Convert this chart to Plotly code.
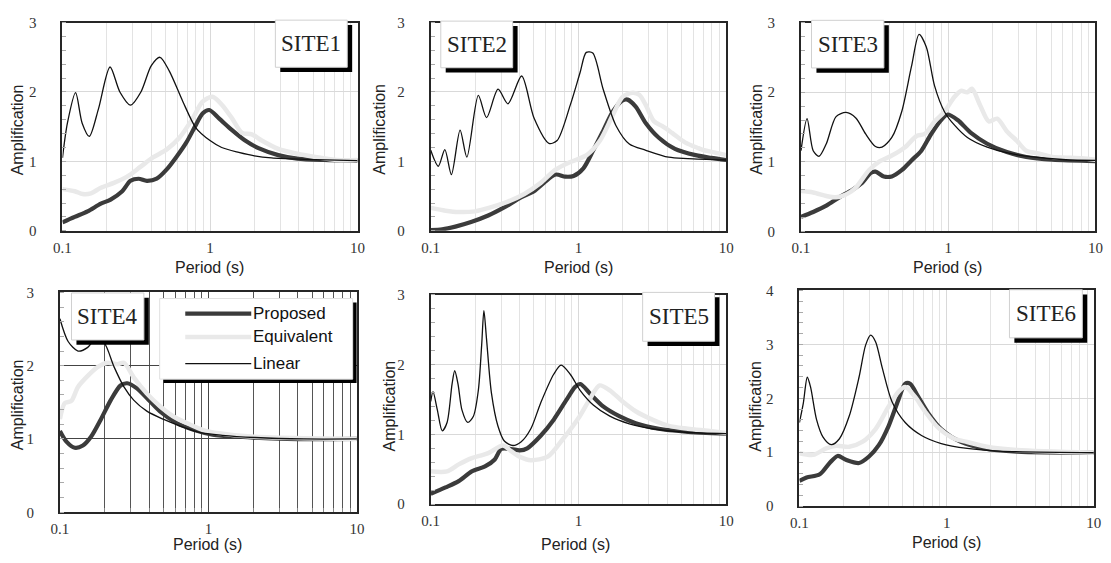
import plotly.graph_objects as go

W, H = 1111, 563

# ---------------- data (Period in s, Amplification) ----------------
# SITE1
S1_LIN_T = [0.1, 0.108, 0.1227, 0.136, 0.152, 0.175, 0.21, 0.245, 0.289, 0.34, 0.40, 0.458, 0.53, 0.655, 0.804, 1.0, 1.2, 1.566, 2.0, 2.61, 4.37, 10]
S1_LIN_A = [1.05, 1.55, 1.99, 1.55, 1.36, 1.75, 2.36, 2.0, 1.81, 2.0, 2.38, 2.50, 2.3, 1.86, 1.48, 1.30, 1.2, 1.13, 1.08, 1.05, 1.03, 1.01]
S1_PRO_T = [0.1, 0.121, 0.148, 0.182, 0.212, 0.254, 0.289, 0.328, 0.373, 0.435, 0.507, 0.59, 0.69, 0.804, 0.89, 0.987, 1.15, 1.41, 1.73, 2.13, 2.9, 3.9, 5.9, 10]
S1_PRO_A = [0.12, 0.20, 0.28, 0.39, 0.45, 0.57, 0.72, 0.75, 0.72, 0.75, 0.88, 1.06, 1.27, 1.53, 1.69, 1.74, 1.62, 1.45, 1.30, 1.19, 1.09, 1.04, 1.02, 1.01]
S1_EQU_T = [0.1, 0.121, 0.137, 0.156, 0.182, 0.223, 0.274, 0.337, 0.413, 0.507, 0.62, 0.763, 0.89, 1.04, 1.21, 1.41, 1.65, 1.92, 2.24, 2.9, 3.9, 5.3, 7.3, 10]
S1_EQU_A = [0.60, 0.57, 0.53, 0.54, 0.62, 0.69, 0.78, 0.92, 1.06, 1.17, 1.34, 1.62, 1.86, 1.93, 1.81, 1.62, 1.41, 1.39, 1.30, 1.18, 1.11, 1.06, 1.02, 1.02]

# SITE2
S2_LIN_T = [0.1, 0.1125, 0.1246, 0.138, 0.158, 0.1756, 0.21, 0.2387, 0.2855, 0.333, 0.4126, 0.501, 0.631, 0.717, 0.88, 1.026, 1.13, 1.25, 1.47, 1.8, 2.21, 2.86, 4.08, 5.5, 10]
S2_LIN_A = [1.16, 0.93, 1.17, 0.81, 1.45, 1.06, 1.95, 1.63, 2.04, 1.83, 2.23, 1.62, 1.26, 1.30, 1.81, 2.28, 2.57, 2.56, 2.04, 1.51, 1.25, 1.16, 1.06, 1.04, 1.02]
S2_PRO_T = [0.1, 0.1196, 0.1468, 0.1896, 0.2448, 0.3162, 0.408, 0.5, 0.584, 0.7, 0.815, 0.926, 1.08, 1.26, 1.47, 1.71, 1.99, 2.15, 2.44, 2.86, 3.5, 4.5, 6.2, 7.9, 10]
S2_PRO_A = [0.01, 0.02, 0.06, 0.13, 0.22, 0.34, 0.48, 0.57, 0.69, 0.81, 0.78, 0.79, 0.90, 1.16, 1.44, 1.72, 1.88, 1.89, 1.79, 1.55, 1.34, 1.18, 1.09, 1.05, 1.02]
S2_EQU_T = [0.1, 0.1259, 0.1546, 0.1995, 0.2575, 0.333, 0.43, 0.555, 0.7, 0.88, 1.137, 1.4, 1.71, 1.99, 2.33, 2.58, 2.86, 3.24, 3.68, 4.3, 5.3, 6.5, 7.1, 8.3, 10]
S2_EQU_A = [0.33, 0.29, 0.27, 0.28, 0.34, 0.42, 0.53, 0.69, 0.88, 0.99, 1.09, 1.30, 1.67, 1.93, 1.99, 1.96, 1.81, 1.58, 1.51, 1.41, 1.27, 1.19, 1.16, 1.13, 1.09]

# SITE3
S3_LIN_T = [0.1, 0.110, 0.121, 0.1326, 0.1486, 0.1731, 0.2022, 0.2357, 0.2749, 0.3205, 0.3553, 0.414, 0.483, 0.563, 0.634, 0.71, 0.808, 0.943, 1.1, 1.35, 1.84, 2.63, 3.77, 6.3, 10]
S3_LIN_A = [1.16, 1.62, 1.16, 1.08, 1.26, 1.65, 1.71, 1.63, 1.40, 1.22, 1.21, 1.35, 1.72, 2.37, 2.83, 2.65, 2.09, 1.72, 1.53, 1.35, 1.21, 1.12, 1.07, 1.03, 1.02]
S3_PRO_T = [0.1, 0.121, 0.1486, 0.182, 0.224, 0.261, 0.297, 0.3205, 0.365, 0.414, 0.483, 0.563, 0.657, 0.766, 0.895, 0.99, 1.16, 1.42, 1.84, 2.5, 3.39, 5.1, 10]
S3_PRO_A = [0.21, 0.28, 0.37, 0.49, 0.60, 0.70, 0.84, 0.86, 0.79, 0.79, 0.88, 1.02, 1.16, 1.40, 1.60, 1.68, 1.60, 1.42, 1.26, 1.14, 1.07, 1.03, 1.01]
S3_EQU_T = [0.1, 0.121, 0.1486, 0.1731, 0.2022, 0.2357, 0.2896, 0.338, 0.414, 0.509, 0.61, 0.693, 0.808, 0.943, 1.1, 1.22, 1.35, 1.45, 1.65, 1.89, 2.15, 2.5, 2.93, 3.39, 4.1, 5.1, 6.3, 8.1, 10]
S3_EQU_A = [0.58, 0.56, 0.51, 0.49, 0.53, 0.63, 0.88, 1.0, 1.09, 1.21, 1.37, 1.40, 1.58, 1.72, 1.93, 2.02, 2.0, 2.05, 1.81, 1.58, 1.62, 1.44, 1.30, 1.16, 1.12, 1.07, 1.06, 1.05, 1.03]

# SITE4
S4_LIN_T = [0.1, 0.1136, 0.1324, 0.154, 0.175, 0.199, 0.232, 0.27, 0.314, 0.385, 0.496, 0.64, 0.87, 1.24, 2.06, 4.4, 10]
S4_LIN_A = [2.64, 2.33, 2.20, 2.25, 2.38, 2.31, 1.98, 1.71, 1.53, 1.38, 1.27, 1.18, 1.09, 1.05, 1.02, 1.00, 1.00]
S4_PRO_T = [0.1, 0.111, 0.1257, 0.1428, 0.162, 0.189, 0.22, 0.256, 0.284, 0.33, 0.385, 0.47, 0.61, 0.785, 1.07, 1.6, 3.4, 10]
S4_PRO_A = [1.11, 0.96, 0.88, 0.91, 1.03, 1.27, 1.53, 1.73, 1.76, 1.69, 1.56, 1.38, 1.22, 1.13, 1.06, 1.03, 1.00, 1.00]
S4_EQU_T = [0.1, 0.108, 0.1195, 0.1324, 0.154, 0.179, 0.209, 0.244, 0.27, 0.314, 0.385, 0.47, 0.578, 0.745, 0.96, 1.37, 2.06, 4.4, 10]
S4_EQU_A = [1.27, 1.49, 1.52, 1.71, 1.86, 1.98, 2.04, 2.02, 2.04, 1.84, 1.62, 1.45, 1.31, 1.20, 1.11, 1.06, 1.03, 1.01, 1.00]

# SITE5
S5_LIN_T = [0.1, 0.1036, 0.1108, 0.1196, 0.129, 0.1394, 0.1453, 0.153, 0.1626, 0.178, 0.1945, 0.21, 0.2212, 0.229, 0.2387, 0.2576, 0.285, 0.316, 0.36, 0.408, 0.476, 0.555, 0.68, 0.763, 0.88, 1.026, 1.26, 1.63, 2.21, 3.16, 5.3, 10]
S5_LIN_A = [1.47, 1.61, 1.35, 1.05, 1.17, 1.72, 1.91, 1.72, 1.35, 1.17, 1.26, 1.63, 2.28, 2.77, 2.36, 1.59, 1.12, 0.90, 0.84, 0.89, 1.08, 1.45, 1.86, 1.99, 1.86, 1.63, 1.42, 1.26, 1.15, 1.08, 1.03, 1.01]
S5_PRO_T = [0.1, 0.1259, 0.1546, 0.1896, 0.233, 0.2712, 0.30, 0.35, 0.40, 0.45, 0.555, 0.68, 0.85, 0.95, 1.03, 1.2, 1.47, 1.89, 2.44, 3.5, 5.3, 10]
S5_PRO_A = [0.15, 0.24, 0.33, 0.47, 0.54, 0.64, 0.79, 0.79, 0.77, 0.80, 0.98, 1.21, 1.53, 1.68, 1.72, 1.58, 1.40, 1.26, 1.16, 1.08, 1.04, 1.01]
S5_EQU_T = [0.1, 0.129, 0.1546, 0.1896, 0.221, 0.2448, 0.308, 0.35, 0.40, 0.476, 0.62, 0.79, 1.02, 1.19, 1.39, 1.63, 1.99, 2.44, 3.16, 4.08, 5.5, 7.5, 10]
S5_EQU_A = [0.47, 0.47, 0.57, 0.66, 0.70, 0.73, 0.84, 0.76, 0.68, 0.63, 0.68, 0.94, 1.26, 1.50, 1.70, 1.63, 1.47, 1.33, 1.21, 1.12, 1.08, 1.05, 1.02]

# SITE6
S6_LIN_T = [0.1, 0.1063, 0.1131, 0.119, 0.1306, 0.1447, 0.1645, 0.187, 0.218, 0.254, 0.282, 0.305, 0.329, 0.365, 0.425, 0.523, 0.675, 0.92, 1.38, 2.3, 10]
S6_LIN_A = [1.55, 1.91, 2.39, 2.21, 1.61, 1.28, 1.14, 1.25, 1.67, 2.39, 2.99, 3.17, 3.05, 2.57, 1.94, 1.55, 1.31, 1.16, 1.07, 1.02, 0.99]
S6_PRO_T = [0.1, 0.1119, 0.1375, 0.1604, 0.182, 0.207, 0.254, 0.297, 0.346, 0.404, 0.47, 0.523, 0.565, 0.641, 0.748, 0.918, 1.25, 1.79, 3.0, 10]
S6_PRO_A = [0.47, 0.53, 0.59, 0.80, 0.93, 0.86, 0.80, 0.92, 1.13, 1.49, 1.97, 2.27, 2.27, 2.03, 1.73, 1.43, 1.19, 1.07, 1.01, 0.99]
S6_EQU_T = [0.1, 0.124, 0.152, 0.178, 0.218, 0.267, 0.329, 0.404, 0.47, 0.523, 0.609, 0.711, 0.872, 1.13, 1.38, 1.88, 3.0, 10]
S6_EQU_A = [0.98, 0.95, 1.07, 1.12, 1.10, 1.19, 1.43, 1.85, 2.12, 2.21, 2.03, 1.76, 1.46, 1.25, 1.19, 1.10, 1.04, 0.99]

SITE_NAMES = ["SITE1", "SITE2", "SITE3", "SITE4", "SITE5", "SITE6"]
SERIES_NAMES = ["Proposed", "Equivalent", "Linear"]
X_TICKS = [0.1, 1, 10]
X_TICK_TEXT = ["0.1", "1", "10"]
X_MINOR = [0.2, 0.3, 0.4, 0.5, 0.6, 0.7, 0.8, 0.9, 2, 3, 4, 5, 6, 7, 8, 9]
Y_MAX = [3, 3, 3, 3, 3, 4]

SITES = [
    (S1_PRO_T, S1_PRO_A, S1_EQU_T, S1_EQU_A, S1_LIN_T, S1_LIN_A),
    (S2_PRO_T, S2_PRO_A, S2_EQU_T, S2_EQU_A, S2_LIN_T, S2_LIN_A),
    (S3_PRO_T, S3_PRO_A, S3_EQU_T, S3_EQU_A, S3_LIN_T, S3_LIN_A),
    (S4_PRO_T, S4_PRO_A, S4_EQU_T, S4_EQU_A, S4_LIN_T, S4_LIN_A),
    (S5_PRO_T, S5_PRO_A, S5_EQU_T, S5_EQU_A, S5_LIN_T, S5_LIN_A),
    (S6_PRO_T, S6_PRO_A, S6_EQU_T, S6_EQU_A, S6_LIN_T, S6_LIN_A),
]

# ---------------- layout geometry (pixels) ----------------
def fx(p):
    return p / W

def fy(p):
    return 1 - p / H

# plot areas: (left, right, top, bottom) in px
AREAS = [
    (54.3, 354.0, 15.0, 229.3),
    (428.3, 728.3, 15.0, 229.3),
    (804.3, 1103.3, 15.0, 230.0),
    (51.7, 353.3, 292.7, 519.0),
    (428.3, 728.3, 295.0, 510.7),
    (802.7, 1101.7, 290.7, 512.7),
]
# site label boxes (left, right, top, bottom) px
LABEL_BOXES = [
    (270.5, 343.5, 12.5, 61.0),
    (438.5, 511.5, 13.5, 61.5),
    (815.0, 888.5, 12.7, 61.7),
    (63.5, 137.0, 293.3, 341.7),
    (643.5, 716.5, 292.7, 343.0),
    (1016.0, 1090.0, 290.0, 339.5),
]
YTITLE_POS = [(9, 125), (376, 125), (759, 125), (9, 408), (386, 410), (758, 410)]
XTITLE_POS = [(204, 267), (578, 267), (953, 267), (202, 552), (575, 552), (952, 550)]

COL_PRO = "#3b3b3b"
COL_EQU = "#e9e9e9"
COL_LIN = "#111111"
SERIF = "Liberation Serif, Times New Roman, serif"
SANS = "Liberation Sans, Arial, sans-serif"

fig = go.Figure()
layout = dict(
    width=W, height=H, margin=dict(l=0, r=0, t=0, b=0),
    paper_bgcolor="white", plot_bgcolor="white", showlegend=False,
)
shapes = []
annotations = []

for i, (pt, pa, et, ea, lt, la) in enumerate(SITES):
    k = "" if i == 0 else str(i + 1)
    xa, ya = "x" + k, "y" + k
    for t, a, col, wd, nm in [(pt, pa, COL_PRO, 4.2, "Proposed"),
                             (et, ea, COL_EQU, 4.5, "Equivalent"),
                             (lt, la, COL_LIN, 1.3, "Linear")]:
        fig.add_trace(go.Scatter(x=t, y=a, mode="lines", name=nm, xaxis=xa, yaxis=ya,
                                 line=dict(color=col, width=wd, shape="spline", smoothing=0.8),
                                 hoverinfo="x+y+name"))
    L, R, T, B = AREAS[i]
    dark = (i == 3)
    gcol = "#444444" if dark else "#d9d9d9"
    mgcol = "#555555" if dark else "#e3e3e3"
    layout["xaxis" + k] = dict(
        type="log", range=[-1, 1], domain=[fx(L), fx(R)], anchor=ya,
        tickvals=X_TICKS, ticktext=X_TICK_TEXT, ticks="", ticklabelstandoff=2,
        tickfont=dict(family=SERIF, size=15, color="#333"),
        showgrid=True, gridcolor=gcol, gridwidth=1,
        minor=dict(tickvals=X_MINOR, showgrid=True, gridcolor=mgcol, gridwidth=1,
                   ticks="inside" if dark else "", ticklen=4, tickcolor="#888"),
        showline=True, mirror=True, linecolor="#262626", linewidth=2,
        zeroline=False, fixedrange=True,
    )
    layout["yaxis" + k] = dict(
        range=[0, Y_MAX[i]], domain=[fy(B), fy(T)], anchor=xa,
        tickvals=list(range(0, Y_MAX[i] + 1)), ticks="", ticklabelstandoff=21,
        tickfont=dict(family=SERIF, size=15, color="#333"),
        showgrid=True, gridcolor=gcol, gridwidth=1,
        minor=dict(dtick=0.2, ticks="inside", ticklen=4, tickcolor="#aaaaaa", showgrid=False),
        showline=True, mirror=True, linecolor="#262626", linewidth=2,
        zeroline=False, fixedrange=True,
    )
    # site label with drop shadow
    bl, br, bt, bb = LABEL_BOXES[i]
    shapes.append(dict(type="rect", xref="paper", yref="paper", layer="above",
                       x0=fx(bl + 5), x1=fx(br + 5), y0=fy(bb + 5), y1=fy(bt + 5),
                       fillcolor="black", line=dict(width=0)))
    shapes.append(dict(type="rect", xref="paper", yref="paper", layer="above",
                       x0=fx(bl), x1=fx(br), y0=fy(bb), y1=fy(bt),
                       fillcolor="white", line=dict(color="#d0d0d0", width=1)))
    annotations.append(dict(text=SITE_NAMES[i], xref="paper", yref="paper",
                            x=fx((bl + br) / 2), y=fy((bt + bb) / 2), showarrow=False,
                            xanchor="center", yanchor="middle",
                            font=dict(family=SERIF, size=23, color="#222")))
    # axis titles
    yx, yy = YTITLE_POS[i]
    annotations.append(dict(text="Amplification", xref="paper", yref="paper", x=fx(yx), y=fy(yy),
                            showarrow=False, textangle=-90, xanchor="center", yanchor="middle",
                            font=dict(family=SANS, size=16, color="#222")))
    tx, ty = XTITLE_POS[i]
    annotations.append(dict(text="Period (s)", xref="paper", yref="paper", x=fx(tx), y=fy(ty),
                            showarrow=False, xanchor="center", yanchor="middle",
                            font=dict(family=SANS, size=16, color="#222")))

# legend box in SITE4 panel
LEG = (153, 349, 299, 382)
shapes.append(dict(type="rect", xref="paper", yref="paper", layer="above",
                   x0=fx(LEG[0] + 4), x1=fx(LEG[1] + 4), y0=fy(LEG[3] + 4), y1=fy(LEG[2] + 4),
                   fillcolor="black", line=dict(width=0)))
shapes.append(dict(type="rect", xref="paper", yref="paper", layer="above",
                   x0=fx(LEG[0]), x1=fx(LEG[1]), y0=fy(LEG[3]), y1=fy(LEG[2]),
                   fillcolor="white", line=dict(color="#e0e0e0", width=1)))
LEG_ROWS = [314.5, 338.5, 366]
for nm, col, wd, ry in zip(SERIES_NAMES, [COL_PRO, COL_EQU, COL_LIN], [4.2, 4.5, 1.3], LEG_ROWS):
    shapes.append(dict(type="line", xref="paper", yref="paper", layer="above",
                       x0=fx(179), x1=fx(246), y0=fy(ry), y1=fy(ry),
                       line=dict(color=col, width=wd)))
    annotations.append(dict(text=nm, xref="paper", yref="paper", x=fx(246), y=fy(ry),
                            showarrow=False, xanchor="left", yanchor="middle",
                            font=dict(family=SANS, size=17, color="#111")))

layout["shapes"] = shapes
layout["annotations"] = annotations
fig.update_layout(**layout)
fig.write_html("out.html", config={"displayModeBar": False},
               post_script="document.body.style.margin='0';document.body.style.overflow='hidden';")
